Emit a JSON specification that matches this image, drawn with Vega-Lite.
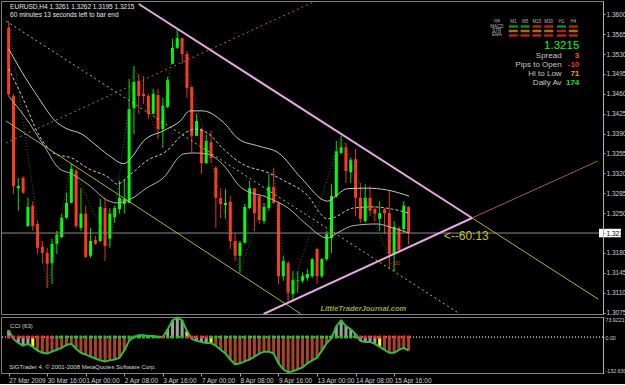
{
  "$schema": "https://vega.github.io/schema/vega-lite/v6.json",
  "background": "#000000",
  "padding": 0,
  "spacing": 3,
  "bounds": "flush",
  "config": {
    "view": {"stroke": "#808080", "strokeWidth": 1},
    "font": "Liberation Sans",
    "axis": {"labelFont": "Liberation Sans Narrow, Liberation Sans", "labelColor": "#d0d0d0", "domainColor": "#a0a0a0", "tickColor": "#a0a0a0", "grid": false, "labelOverlap": false}
  },
  "datasets": {
    "candles": [
      {"i":0,"o":1.3576,"h":1.3588,"l":1.3456,"c":1.3459},
      {"i":1,"o":1.3456,"h":1.3460,"l":1.3284,"c":1.3298},
      {"i":2,"o":1.3294,"h":1.3312,"l":1.3254,"c":1.3298},
      {"i":3,"o":1.3312,"h":1.3315,"l":1.3284,"c":1.3286},
      {"i":4,"o":1.3227,"h":1.3277,"l":1.3227,"c":1.3261},
      {"i":5,"o":1.3263,"h":1.3271,"l":1.3219,"c":1.3227},
      {"i":6,"o":1.3231,"h":1.3236,"l":1.3178,"c":1.3189},
      {"i":7,"o":1.3191,"h":1.3201,"l":1.3161,"c":1.3180},
      {"i":8,"o":1.3180,"h":1.3189,"l":1.3118,"c":1.3161},
      {"i":9,"o":1.3162,"h":1.3205,"l":1.3125,"c":1.3196},
      {"i":10,"o":1.3196,"h":1.3219,"l":1.3178,"c":1.3212},
      {"i":11,"o":1.3208,"h":1.3249,"l":1.3206,"c":1.3242},
      {"i":12,"o":1.3242,"h":1.3286,"l":1.3240,"c":1.3268},
      {"i":13,"o":1.3268,"h":1.3338,"l":1.3268,"c":1.3328},
      {"i":14,"o":1.3324,"h":1.3328,"l":1.3224,"c":1.3227},
      {"i":15,"o":1.3224,"h":1.3294,"l":1.3219,"c":1.3249},
      {"i":16,"o":1.3249,"h":1.3263,"l":1.3171,"c":1.3173},
      {"i":17,"o":1.3175,"h":1.3224,"l":1.3171,"c":1.3201},
      {"i":18,"o":1.3203,"h":1.3210,"l":1.3194,"c":1.3196},
      {"i":19,"o":1.3201,"h":1.3275,"l":1.3199,"c":1.3261},
      {"i":20,"o":1.3259,"h":1.3275,"l":1.3166,"c":1.3192},
      {"i":21,"o":1.3205,"h":1.3259,"l":1.3189,"c":1.3249},
      {"i":22,"o":1.3243,"h":1.3263,"l":1.3233,"c":1.3259},
      {"i":23,"o":1.3257,"h":1.3307,"l":1.3249,"c":1.3277},
      {"i":24,"o":1.3266,"h":1.3310,"l":1.3249,"c":1.3275},
      {"i":25,"o":1.3268,"h":1.3486,"l":1.3268,"c":1.3433},
      {"i":26,"o":1.3435,"h":1.3509,"l":1.3389,"c":1.3481},
      {"i":27,"o":1.3483,"h":1.3495,"l":1.3425,"c":1.3456},
      {"i":28,"o":1.3460,"h":1.3491,"l":1.3442,"c":1.3456},
      {"i":29,"o":1.3456,"h":1.3460,"l":1.3416,"c":1.3425},
      {"i":30,"o":1.3425,"h":1.3469,"l":1.3425,"c":1.3460},
      {"i":31,"o":1.3458,"h":1.3469,"l":1.3381,"c":1.3398},
      {"i":32,"o":1.3398,"h":1.3453,"l":1.3365,"c":1.3439},
      {"i":33,"o":1.3437,"h":1.3490,"l":1.3435,"c":1.3484},
      {"i":34,"o":1.3513,"h":1.3557,"l":1.3513,"c":1.3541},
      {"i":35,"o":1.3541,"h":1.3574,"l":1.3539,"c":1.3558},
      {"i":36,"o":1.3558,"h":1.3558,"l":1.3513,"c":1.3530},
      {"i":37,"o":1.3530,"h":1.3535,"l":1.3453,"c":1.3470},
      {"i":38,"o":1.3472,"h":1.3474,"l":1.3356,"c":1.3386},
      {"i":39,"o":1.3386,"h":1.3425,"l":1.3386,"c":1.3412},
      {"i":40,"o":1.3398,"h":1.3400,"l":1.3319,"c":1.3338},
      {"i":41,"o":1.3338,"h":1.3389,"l":1.3337,"c":1.3377},
      {"i":42,"o":1.3375,"h":1.3395,"l":1.3338,"c":1.3347},
      {"i":43,"o":1.3330,"h":1.3333,"l":1.3224,"c":1.3277},
      {"i":44,"o":1.3277,"h":1.3294,"l":1.3241,"c":1.3266},
      {"i":45,"o":1.3264,"h":1.3293,"l":1.3240,"c":1.3268},
      {"i":46,"o":1.3270,"h":1.3280,"l":1.3187,"c":1.3201},
      {"i":47,"o":1.3201,"h":1.3215,"l":1.3166,"c":1.3175},
      {"i":48,"o":1.3175,"h":1.3201,"l":1.3145,"c":1.3198},
      {"i":49,"o":1.3198,"h":1.3266,"l":1.3196,"c":1.3261},
      {"i":50,"o":1.3259,"h":1.3307,"l":1.3257,"c":1.3294},
      {"i":51,"o":1.3294,"h":1.3294,"l":1.3219,"c":1.3250},
      {"i":52,"o":1.3280,"h":1.3284,"l":1.3231,"c":1.3238},
      {"i":53,"o":1.3236,"h":1.3268,"l":1.3231,"c":1.3261},
      {"i":54,"o":1.3259,"h":1.3319,"l":1.3254,"c":1.3296},
      {"i":55,"o":1.3296,"h":1.3330,"l":1.3266,"c":1.3268},
      {"i":56,"o":1.3268,"h":1.3271,"l":1.3125,"c":1.3139},
      {"i":57,"o":1.3139,"h":1.3175,"l":1.3131,"c":1.3166},
      {"i":58,"o":1.3162,"h":1.3166,"l":1.3095,"c":1.3110},
      {"i":59,"o":1.3108,"h":1.3148,"l":1.3095,"c":1.3132},
      {"i":60,"o":1.3131,"h":1.3148,"l":1.3110,"c":1.3132},
      {"i":61,"o":1.3131,"h":1.3146,"l":1.3127,"c":1.3139},
      {"i":62,"o":1.3136,"h":1.3152,"l":1.3131,"c":1.3143},
      {"i":63,"o":1.3139,"h":1.3171,"l":1.3136,"c":1.3169},
      {"i":64,"o":1.3187,"h":1.3189,"l":1.3125,"c":1.3139},
      {"i":65,"o":1.3139,"h":1.3171,"l":1.3136,"c":1.3169},
      {"i":66,"o":1.3169,"h":1.3219,"l":1.3166,"c":1.3213},
      {"i":67,"o":1.3206,"h":1.3301,"l":1.3180,"c":1.3280},
      {"i":68,"o":1.3280,"h":1.3377,"l":1.3277,"c":1.3359},
      {"i":69,"o":1.3356,"h":1.3386,"l":1.3354,"c":1.3366},
      {"i":70,"o":1.3366,"h":1.3374,"l":1.3303,"c":1.3324},
      {"i":71,"o":1.3322,"h":1.3347,"l":1.3303,"c":1.3344},
      {"i":72,"o":1.3345,"h":1.3363,"l":1.3245,"c":1.3277},
      {"i":73,"o":1.3277,"h":1.3303,"l":1.3233,"c":1.3240},
      {"i":74,"o":1.3236,"h":1.3301,"l":1.3233,"c":1.3277},
      {"i":75,"o":1.3277,"h":1.3298,"l":1.3245,"c":1.3254},
      {"i":76,"o":1.3257,"h":1.3263,"l":1.3236,"c":1.3249},
      {"i":77,"o":1.3240,"h":1.3271,"l":1.3219,"c":1.3250},
      {"i":78,"o":1.3257,"h":1.3259,"l":1.3213,"c":1.3250},
      {"i":79,"o":1.3250,"h":1.3289,"l":1.3153,"c":1.3178},
      {"i":80,"o":1.3178,"h":1.3236,"l":1.3148,"c":1.3226},
      {"i":81,"o":1.3224,"h":1.3227,"l":1.3183,"c":1.3185},
      {"i":82,"o":1.3222,"h":1.3271,"l":1.3215,"c":1.3263},
      {"i":83,"o":1.3261,"h":1.3262,"l":1.3195,"c":1.3215}
    ],
    "last": [{"p": 1.3215}],
    "bands": [
      {"b":"u","i":0,"p":1.3539},{"b":"u","i":3.5,"p":1.3488},{"b":"u","i":6.2,"p":1.3453},{"b":"u","i":9.7,"p":1.3412},{"b":"u","i":11.7,"p":1.3400},{"b":"u","i":15.2,"p":1.3389},{"b":"u","i":17.8,"p":1.3372},{"b":"u","i":20.9,"p":1.3351},{"b":"u","i":23.9,"p":1.3337},{"b":"u","i":25.4,"p":1.3347},{"b":"u","i":28,"p":1.3377},{"b":"u","i":32.1,"p":1.3395},{"b":"u","i":35.6,"p":1.3412},{"b":"u","i":37.6,"p":1.3430},{"b":"u","i":40.3,"p":1.3430},{"b":"u","i":44.3,"p":1.3412},{"b":"u","i":47.8,"p":1.3380},{"b":"u","i":51.9,"p":1.3368},{"b":"u","i":56,"p":1.3356},{"b":"u","i":60.7,"p":1.3312},{"b":"u","i":66.2,"p":1.3271},{"b":"u","i":67.4,"p":1.3277},{"b":"u","i":70.3,"p":1.3293},{"b":"u","i":74.3,"p":1.3294},{"b":"u","i":78.4,"p":1.3291},{"b":"u","i":83.1,"p":1.3280},
      {"b":"m","i":0,"p":1.3504},{"b":"m","i":2.9,"p":1.3453},{"b":"m","i":6.2,"p":1.3389},{"b":"m","i":9.7,"p":1.3354},{"b":"m","i":13.1,"p":1.3347},{"b":"m","i":16.4,"p":1.3329},{"b":"m","i":20.9,"p":1.3312},{"b":"m","i":22.5,"p":1.3301},{"b":"m","i":25.4,"p":1.3319},{"b":"m","i":28.6,"p":1.3342},{"b":"m","i":32.7,"p":1.3359},{"b":"m","i":36.2,"p":1.3389},{"b":"m","i":38.8,"p":1.3398},{"b":"m","i":41.3,"p":1.3391},{"b":"m","i":44.3,"p":1.3365},{"b":"m","i":48.4,"p":1.3337},{"b":"m","i":53.9,"p":1.3321},{"b":"m","i":57.2,"p":1.3307},{"b":"m","i":61.7,"p":1.3284},{"b":"m","i":66.2,"p":1.3240},{"b":"m","i":67.4,"p":1.3242},{"b":"m","i":71.5,"p":1.3259},{"b":"m","i":75.6,"p":1.3261},{"b":"m","i":79.7,"p":1.3257},{"b":"m","i":83.1,"p":1.3250},
      {"b":"l","i":0,"p":1.3456},{"b":"l","i":3.5,"p":1.3418},{"b":"l","i":7.6,"p":1.3365},{"b":"l","i":10.3,"p":1.3330},{"b":"l","i":13.1,"p":1.3319},{"b":"l","i":16.4,"p":1.3301},{"b":"l","i":20.9,"p":1.3271},{"b":"l","i":22.5,"p":1.3268},{"b":"l","i":25.4,"p":1.3275},{"b":"l","i":28.6,"p":1.3294},{"b":"l","i":32.1,"p":1.3312},{"b":"l","i":36.2,"p":1.3354},{"b":"l","i":38.3,"p":1.3356},{"b":"l","i":41.3,"p":1.3354},{"b":"l","i":44.3,"p":1.3337},{"b":"l","i":48.4,"p":1.3294},{"b":"l","i":53.9,"p":1.3277},{"b":"l","i":58,"p":1.3259},{"b":"l","i":61.7,"p":1.3231},{"b":"l","i":66.2,"p":1.3206},{"b":"l","i":68.2,"p":1.3215},{"b":"l","i":71.5,"p":1.3228},{"b":"l","i":76.4,"p":1.3231},{"b":"l","i":79.7,"p":1.3224},{"b":"l","i":83.1,"p":1.3215}
    ],
    "trend": [
      {"n":"A","i":27.0,"p":1.36181},{"n":"A","i":96.18,"p":1.32415},
      {"n":"B","i":52.92,"p":1.30725},{"n":"B","i":96.18,"p":1.32415},
      {"n":"C","i":96.18,"p":1.32415},{"n":"C","i":122.31,"p":1.30989},
      {"n":"D","i":96.18,"p":1.32415},{"n":"D","i":122.31,"p":1.33418},
      {"n":"E","i":-0.55,"p":1.35882},{"n":"E","i":93.33,"p":1.30743},
      {"n":"F","i":-0.55,"p":1.34122},{"n":"F","i":60.67,"p":1.30725},
      {"n":"G","i":-0.55,"p":1.33735},{"n":"G","i":63.73,"p":1.36234}
    ],
    "zigzag": [
      {"i":0,"p":1.3588},{"i":8,"p":1.3118},{"i":13,"p":1.3338},{"i":21,"p":1.3189},{"i":26,"p":1.3509},{"i":31,"p":1.3381},{"i":35,"p":1.3574},{"i":48,"p":1.3145},{"i":55,"p":1.3330},{"i":58,"p":1.3095},{"i":69,"p":1.3386},{"i":80,"p":1.3148}
    ],
    "mtf": [
      {"tf":"M1","row":"MACD","i":104.73,"p":1.35785,"st":"up"},{"tf":"M5","row":"MACD","i":107.18,"p":1.35785,"st":"up"},{"tf":"M15","row":"MACD","i":109.63,"p":1.35785,"st":"dn"},{"tf":"M30","row":"MACD","i":112.08,"p":1.35785,"st":"dn"},{"tf":"H1","row":"MACD","i":114.73,"p":1.35785,"st":"up"},{"tf":"H4","row":"MACD","i":117.18,"p":1.35785,"st":"dn"},
      {"tf":"M1","row":"STR","i":104.73,"p":1.35706,"st":"nt"},{"tf":"M5","row":"STR","i":107.18,"p":1.35706,"st":"nt"},{"tf":"M15","row":"STR","i":109.63,"p":1.35706,"st":"nt"},{"tf":"M30","row":"STR","i":112.08,"p":1.35706,"st":"nt"},{"tf":"H1","row":"STR","i":114.73,"p":1.35706,"st":"dn"},{"tf":"H4","row":"STR","i":117.18,"p":1.35706,"st":"nt"},
      {"tf":"M1","row":"EMA","i":104.73,"p":1.35627,"st":"dn"},{"tf":"M5","row":"EMA","i":107.18,"p":1.35627,"st":"dn"},{"tf":"M15","row":"EMA","i":109.63,"p":1.35627,"st":"dn"},{"tf":"M30","row":"EMA","i":112.08,"p":1.35627,"st":"dn"},{"tf":"H1","row":"EMA","i":114.73,"p":1.35627,"st":"dn"},{"tf":"H4","row":"EMA","i":117.18,"p":1.35627,"st":"dn"}
    ],
    "notes": [
      {"g":"hdr","t":"EURUSD,H4  1.3261 1.3262 1.3195 1.3215","i":0.3,"p":1.36128},
      {"g":"hdr","t":"60 minutes 13 seconds left to bar end","i":0.3,"p":1.35979},
      {"g":"timer","t":"<--60:13","i":90.3,"p":1.32098},
      {"g":"big","t":"1.3215","i":118.43,"p":1.35442},
      {"g":"lab","t":"Spread","i":114.76,"p":1.35266},
      {"g":"lab","t":"Pips to Open","i":114.76,"p":1.35106},
      {"g":"lab","t":"Hi to Low","i":114.76,"p":1.34946},
      {"g":"lab","t":"Daily Av","i":114.76,"p":1.34782},
      {"g":"val","k":"spread","t":"3","i":118.43,"p":1.35266},
      {"g":"val","k":"pto","t":"-10","i":118.43,"p":1.35106},
      {"g":"val","k":"hl","t":"71","i":118.43,"p":1.34946},
      {"g":"val","k":"da","t":"174","i":118.43,"p":1.34782},
      {"g":"grid","t":"cja","i":101.3,"p":1.35886},
      {"g":"grid","t":"M1","i":104.73,"p":1.35870},
      {"g":"grid","t":"M5","i":107.18,"p":1.35870},
      {"g":"grid","t":"M15","i":109.63,"p":1.35870},
      {"g":"grid","t":"M30","i":112.08,"p":1.35870},
      {"g":"grid","t":"H1","i":114.73,"p":1.35870},
      {"g":"grid","t":"H4","i":117.18,"p":1.35870},
      {"g":"grid","t":"MACD","i":101.3,"p":1.35785},
      {"g":"grid","t":"STR","i":101.3,"p":1.35706},
      {"g":"grid","t":"EMA","i":101.3,"p":1.35627},
      {"g":"dd","t":"DD","i":80.5,"p":1.31623},
      {"g":"wm","t":"LittleTraderJournal.com","i":73.6,"p":1.30813}
    ],
    "cci": [
      {"i":0,"v":25,"h":"up","s":"bear"},{"i":1,"v":-7,"h":"up","s":"bear"},{"i":2,"v":-22,"h":"up","s":"bear"},{"i":3,"v":-32,"h":"up","s":"bear"},{"i":4,"v":-25,"h":"up","s":"bear"},{"i":5,"v":-36,"h":"sig","s":"bear"},{"i":6,"v":-50,"h":"dn","s":"bear"},{"i":7,"v":-58,"h":"dn","s":"bear"},{"i":8,"v":-61,"h":"dn","s":"bear"},{"i":9,"v":-54,"h":"dn","s":"bear"},
      {"i":10,"v":-47,"h":"dn","s":"bull"},{"i":11,"v":-40,"h":"dn","s":"bull"},{"i":12,"v":-29,"h":"dn","s":"bull"},{"i":13,"v":-25,"h":"dn","s":"bull"},{"i":14,"v":-43,"h":"dn","s":"bull"},{"i":15,"v":-58,"h":"dn","s":"bull"},{"i":16,"v":-65,"h":"dn","s":"bull"},{"i":17,"v":-72,"h":"dn","s":"bull"},{"i":18,"v":-79,"h":"dn","s":"bull"},{"i":19,"v":-86,"h":"dn","s":"bull"},
      {"i":20,"v":-90,"h":"dn","s":"bull"},{"i":21,"v":-86,"h":"dn","s":"bull"},{"i":22,"v":-83,"h":"dn","s":"bull"},{"i":23,"v":-76,"h":"dn","s":"bull"},{"i":24,"v":-50,"h":"dn","s":"bull"},{"i":25,"v":-14,"h":"dn","s":"bull"},{"i":26,"v":0,"h":"up","s":"bull"},{"i":27,"v":7,"h":"up","s":"bull"},{"i":28,"v":7,"h":"up","s":"bull"},{"i":29,"v":4,"h":"up","s":"bull"},
      {"i":30,"v":4,"h":"up","s":"bull"},{"i":31,"v":0,"h":"up","s":"bull"},{"i":32,"v":0,"h":"up","s":"bear"},{"i":33,"v":29,"h":"up","s":"bull"},{"i":34,"v":61,"h":"up","s":"bull"},{"i":35,"v":72,"h":"up","s":"bull"},{"i":36,"v":61,"h":"up","s":"bull"},{"i":37,"v":22,"h":"sig","s":"bear"},{"i":38,"v":-7,"h":"up","s":"bear"},{"i":39,"v":-14,"h":"up","s":"bear"},
      {"i":40,"v":-18,"h":"up","s":"bear"},{"i":41,"v":-22,"h":"up","s":"bear"},{"i":42,"v":-22,"h":"sig","s":"bull"},{"i":43,"v":-32,"h":"dn","s":"bull"},{"i":44,"v":-47,"h":"dn","s":"bull"},{"i":45,"v":-61,"h":"dn","s":"bull"},{"i":46,"v":-83,"h":"dn","s":"bull"},{"i":47,"v":-101,"h":"dn","s":"bull"},{"i":48,"v":-97,"h":"dn","s":"bull"},{"i":49,"v":-90,"h":"dn","s":"bull"},
      {"i":50,"v":-83,"h":"dn","s":"bull"},{"i":51,"v":-72,"h":"dn","s":"bull"},{"i":52,"v":-61,"h":"dn","s":"bull"},{"i":53,"v":-54,"h":"dn","s":"bull"},{"i":54,"v":-54,"h":"dn","s":"bull"},{"i":55,"v":-61,"h":"dn","s":"bull"},{"i":56,"v":-97,"h":"dn","s":"bull"},{"i":57,"v":-119,"h":"dn","s":"bull"},{"i":58,"v":-130,"h":"dn","s":"bull"},{"i":59,"v":-126,"h":"dn","s":"bull"},
      {"i":60,"v":-119,"h":"dn","s":"bull"},{"i":61,"v":-112,"h":"dn","s":"bull"},{"i":62,"v":-97,"h":"dn","s":"bull"},{"i":63,"v":-86,"h":"dn","s":"bull"},{"i":64,"v":-76,"h":"dn","s":"bull"},{"i":65,"v":-50,"h":"dn","s":"bull"},{"i":66,"v":-22,"h":"dn","s":"bull"},{"i":67,"v":-4,"h":"up","s":"bull"},{"i":68,"v":40,"h":"up","s":"bull"},{"i":69,"v":61,"h":"up","s":"bull"},
      {"i":70,"v":40,"h":"up","s":"bull"},{"i":71,"v":29,"h":"up","s":"bull"},{"i":72,"v":11,"h":"up","s":"bull"},{"i":73,"v":-14,"h":"up","s":"bear"},{"i":74,"v":-18,"h":"up","s":"bear"},{"i":75,"v":-18,"h":"up","s":"bear"},{"i":76,"v":-25,"h":"up","s":"bear"},{"i":77,"v":-36,"h":"sig","s":"bear"},{"i":78,"v":-47,"h":"dn","s":"bear"},{"i":79,"v":-58,"h":"dn","s":"bear"},
      {"i":80,"v":-58,"h":"dn","s":"bear"},{"i":81,"v":-47,"h":"dn","s":"bear"},{"i":82,"v":-40,"h":"dn","s":"bear"},{"i":83,"v":-50,"h":"dn","s":"bear"}
    ],
    "cnotes": [
      {"t":"CCI (63)","i":0.3,"v":40},
      {"t":"SIGTrader 4, © 2001-2008 MetaQuotes Software Corp.","i":0.1,"v":-112}
    ]
  },
  "vconcat": [
    {
      "width": 602,
      "height": 313,
      "resolve": {"scale": {"color": "independent"}, "axis": {"x": "independent", "y": "independent"}},
      "layer": [
        {
          "data": {"name": "candles"},
          "mark": {"type": "rule", "strokeWidth": 1},
          "encoding": {
            "x": {"field": "i", "type": "quantitative", "scale": {"domain": [-0.551, 122.31], "nice": false, "zero": false}, "axis": null},
            "y": {"field": "l", "type": "quantitative", "scale": {"domain": [1.30725, 1.36234], "nice": false, "zero": false},
              "axis": {"orient": "right", "title": null, "values": [1.3075,1.311,1.3145,1.318,1.3215,1.325,1.3285,1.332,1.3355,1.339,1.3425,1.346,1.3495,1.353,1.3565,1.36], "format": ".4f", "labelFontSize": 6.5, "tickSize": 2, "labelPadding": 1, "zindex": 1, "domainColor": "#b0b0b0", "labelOverlap": false,
                "labelColor": {"condition": {"test": "abs(datum.value - 1.3215) < 0.00001", "value": "#000000"}, "value": "#d0d0d0"}}},
            "y2": {"field": "h"},
            "color": {"condition": {"test": "datum.c >= datum.o", "value": "#00e000"}, "value": "#e8321e"}
          }
        },
        {
          "data": {"name": "candles"},
          "mark": {"type": "bar", "width": 3},
          "encoding": {
            "x": {"field": "i", "type": "quantitative", "axis": null},
            "y": {"field": "o", "type": "quantitative", "axis": null},
            "y2": {"field": "c"},
            "color": {"condition": {"test": "datum.c >= datum.o", "value": "#00ff00"}, "value": "#ff3a22"}
          }
        },
        {
          "data": {"name": "last"},
          "mark": {"type": "rule", "color": "#8c8c8c", "strokeWidth": 1},
          "encoding": {"y": {"field": "p", "type": "quantitative", "axis": null}}
        },
        {
          "data": {"name": "zigzag"},
          "mark": {"type": "line", "color": "#2a6a2a", "strokeWidth": 1, "strokeDash": [1, 2]},
          "encoding": {
            "x": {"field": "i", "type": "quantitative", "axis": null},
            "y": {"field": "p", "type": "quantitative", "axis": null}
          }
        },
        {
          "data": {"name": "bands"},
          "transform": [{"filter": "datum.b == 'u'"}],
          "mark": {"type": "line", "color": "#c8c8c8", "strokeWidth": 1, "interpolate": "monotone"},
          "encoding": {
            "x": {"field": "i", "type": "quantitative", "axis": null},
            "y": {"field": "p", "type": "quantitative", "axis": null}
          }
        },
        {
          "data": {"name": "bands"},
          "transform": [{"filter": "datum.b == 'm'"}],
          "mark": {"type": "line", "color": "#c8c8c8", "strokeWidth": 1, "strokeDash": [3, 2], "interpolate": "monotone"},
          "encoding": {
            "x": {"field": "i", "type": "quantitative", "axis": null},
            "y": {"field": "p", "type": "quantitative", "axis": null}
          }
        },
        {
          "data": {"name": "bands"},
          "transform": [{"filter": "datum.b == 'l'"}],
          "mark": {"type": "line", "color": "#b4b4b4", "strokeWidth": 1, "interpolate": "monotone"},
          "encoding": {
            "x": {"field": "i", "type": "quantitative", "axis": null},
            "y": {"field": "p", "type": "quantitative", "axis": null}
          }
        },
        {
          "data": {"name": "trend"},
          "transform": [{"filter": {"field": "n", "oneOf": ["C", "F"]}}],
          "mark": {"type": "line", "color": "#b4b414", "strokeWidth": 1, "clip": true},
          "encoding": {
            "x": {"field": "i", "type": "quantitative", "axis": null},
            "y": {"field": "p", "type": "quantitative", "axis": null},
            "detail": {"field": "n"}
          }
        },
        {
          "data": {"name": "trend"},
          "transform": [{"filter": "datum.n == 'D'"}],
          "mark": {"type": "line", "color": "#a8622a", "strokeWidth": 1, "clip": true},
          "encoding": {
            "x": {"field": "i", "type": "quantitative", "axis": null},
            "y": {"field": "p", "type": "quantitative", "axis": null}
          }
        },
        {
          "data": {"name": "trend"},
          "transform": [{"filter": "datum.n == 'E'"}],
          "mark": {"type": "line", "color": "#c8c800", "strokeWidth": 1, "strokeDash": [2, 3], "clip": true},
          "encoding": {
            "x": {"field": "i", "type": "quantitative", "axis": null},
            "y": {"field": "p", "type": "quantitative", "axis": null}
          }
        },
        {
          "data": {"name": "trend"},
          "transform": [{"filter": "datum.n == 'G'"}],
          "mark": {"type": "line", "color": "#c06a28", "strokeWidth": 1, "strokeDash": [2, 3], "clip": true},
          "encoding": {
            "x": {"field": "i", "type": "quantitative", "axis": null},
            "y": {"field": "p", "type": "quantitative", "axis": null}
          }
        },
        {
          "data": {"name": "trend"},
          "transform": [{"filter": {"field": "n", "oneOf": ["A", "B"]}}],
          "mark": {"type": "line", "color": "#e6a8e6", "strokeWidth": 2, "clip": true},
          "encoding": {
            "x": {"field": "i", "type": "quantitative", "axis": null},
            "y": {"field": "p", "type": "quantitative", "axis": null},
            "detail": {"field": "n"}
          }
        },
        {
          "data": {"name": "last"},
          "mark": {"type": "tick", "orient": "horizontal", "size": 22, "thickness": 8.5, "color": "#ffffff", "opacity": 1, "clip": false},
          "encoding": {
            "x": {"datum": 124.8, "type": "quantitative", "axis": null},
            "y": {"field": "p", "type": "quantitative", "axis": null}
          }
        },
        {
          "data": {"name": "mtf"},
          "mark": {"type": "tick", "orient": "horizontal", "size": 9, "thickness": 2.5},
          "encoding": {
            "x": {"field": "i", "type": "quantitative", "axis": null},
            "y": {"field": "p", "type": "quantitative", "axis": null},
            "color": {"field": "st", "type": "nominal", "scale": {"domain": ["up", "nt", "dn"], "range": ["#18c818", "#ff9a00", "#ff3020"]}, "legend": null}
          }
        },
        {
          "data": {"name": "notes"},
          "transform": [{"filter": "datum.g == 'hdr'"}],
          "mark": {"type": "text", "align": "left", "baseline": "middle", "fontSize": 6.5, "color": "#e8e8e8"},
          "encoding": {
            "x": {"field": "i", "type": "quantitative", "axis": null},
            "y": {"field": "p", "type": "quantitative", "axis": null},
            "text": {"field": "t"}
          }
        },
        {
          "data": {"name": "notes"},
          "transform": [{"filter": "datum.g == 'timer'"}],
          "mark": {"type": "text", "align": "left", "baseline": "middle", "fontSize": 12, "color": "#c4c414"},
          "encoding": {
            "x": {"field": "i", "type": "quantitative", "axis": null},
            "y": {"field": "p", "type": "quantitative", "axis": null},
            "text": {"field": "t"}
          }
        },
        {
          "data": {"name": "notes"},
          "transform": [{"filter": "datum.g == 'big'"}],
          "mark": {"type": "text", "align": "right", "baseline": "middle", "fontSize": 11.5, "color": "#00ff00"},
          "encoding": {
            "x": {"field": "i", "type": "quantitative", "axis": null},
            "y": {"field": "p", "type": "quantitative", "axis": null},
            "text": {"field": "t"}
          }
        },
        {
          "data": {"name": "notes"},
          "transform": [{"filter": "datum.g == 'lab'"}],
          "mark": {"type": "text", "align": "right", "baseline": "middle", "fontSize": 8, "color": "#c8c8c8"},
          "encoding": {
            "x": {"field": "i", "type": "quantitative", "axis": null},
            "y": {"field": "p", "type": "quantitative", "axis": null},
            "text": {"field": "t"}
          }
        },
        {
          "data": {"name": "notes"},
          "transform": [{"filter": "datum.g == 'val'"}],
          "mark": {"type": "text", "align": "right", "baseline": "middle", "fontSize": 8, "fontWeight": "bold"},
          "encoding": {
            "x": {"field": "i", "type": "quantitative", "axis": null},
            "y": {"field": "p", "type": "quantitative", "axis": null},
            "text": {"field": "t"},
            "color": {"field": "k", "type": "nominal", "scale": {"domain": ["spread", "pto", "hl", "da"], "range": ["#ff5a1e", "#ff2a1a", "#ff9a1a", "#22e022"]}, "legend": null}
          }
        },
        {
          "data": {"name": "notes"},
          "transform": [{"filter": "datum.g == 'grid'"}],
          "mark": {"type": "text", "align": "center", "baseline": "middle", "fontSize": 4.5, "color": "#b8b8b8"},
          "encoding": {
            "x": {"field": "i", "type": "quantitative", "axis": null},
            "y": {"field": "p", "type": "quantitative", "axis": null},
            "text": {"field": "t"}
          }
        },
        {
          "data": {"name": "notes"},
          "transform": [{"filter": "datum.g == 'dd'"}],
          "mark": {"type": "text", "align": "center", "baseline": "middle", "fontSize": 5, "color": "#e03020"},
          "encoding": {
            "x": {"field": "i", "type": "quantitative", "axis": null},
            "y": {"field": "p", "type": "quantitative", "axis": null},
            "text": {"field": "t"}
          }
        },
        {
          "data": {"name": "notes"},
          "transform": [{"filter": "datum.g == 'wm'"}],
          "mark": {"type": "text", "align": "center", "baseline": "middle", "fontSize": 7.5, "fontStyle": "italic", "fontWeight": "bold", "color": "#a0a040"},
          "encoding": {
            "x": {"field": "i", "type": "quantitative", "axis": null},
            "y": {"field": "p", "type": "quantitative", "axis": null},
            "text": {"field": "t"}
          }
        }
      ]
    },
    {
      "width": 602,
      "height": 56,
      "resolve": {"scale": {"color": "independent"}, "axis": {"x": "independent", "y": "independent"}},
      "layer": [
        {
          "data": {"name": "cci"},
          "mark": {"type": "bar", "width": 3},
          "encoding": {
            "x": {"field": "i", "type": "quantitative", "scale": {"domain": [-0.551, 122.31], "nice": false, "zero": false},
              "axis": {"orient": "bottom", "title": null, "values": [0,8,16,24,32,40,48,56,64,72,80], "labelExpr": "['27 Mar 2009','30 Mar 16:00','1 Apr 00:00','2 Apr 08:00','3 Apr 16:00','7 Apr 00:00','8 Apr 08:00','9 Apr 16:00','13 Apr 00:00','14 Apr 08:00','15 Apr 16:00'][round(datum.value/8)]", "labelAlign": "left", "labelFontSize": 6.5, "tickSize": 3, "labelPadding": 1, "labelOverlap": false, "domain": false}},
            "y": {"field": "v", "type": "quantitative", "scale": {"domain": [-132.63, 73.9221], "nice": false, "zero": false},
              "axis": {"orient": "right", "title": null, "values": [-132.63, 0, 73.9221], "labelExpr": "datum.value > 70 ? '73.9221' : datum.value < -100 ? '-132.630' : '0.00'", "labelFlush": true, "labelFontSize": 5.3, "tickSize": 1, "labelPadding": 1, "domainColor": "#b0b0b0", "labelOverlap": false}},
            "y2": {"datum": 0},
            "color": {"field": "h", "type": "nominal", "scale": {"domain": ["up", "dn", "sig"], "range": ["#a0a0a0", "#a8432c", "#ffff00"]}, "legend": null}
          }
        },
        {
          "data": {"name": "cci"},
          "mark": {"type": "rule", "color": "#909090", "strokeDash": [1, 2]},
          "encoding": {"y": {"datum": 0, "type": "quantitative", "axis": null}}
        },
        {
          "data": {"name": "cci"},
          "mark": {"type": "line", "color": "#2ebd3c", "strokeWidth": 2},
          "encoding": {
            "x": {"field": "i", "type": "quantitative", "axis": null},
            "y": {"field": "v", "type": "quantitative", "axis": null}
          }
        },
        {
          "data": {"name": "cci"},
          "mark": {"type": "square", "size": 9, "filled": true, "opacity": 1},
          "encoding": {
            "x": {"field": "i", "type": "quantitative", "axis": null},
            "y": {"datum": 0, "type": "quantitative", "axis": null},
            "color": {"field": "s", "type": "nominal", "scale": {"domain": ["bull", "bear"], "range": ["#22c422", "#ff2a2a"]}, "legend": null}
          }
        },
        {
          "data": {"name": "cnotes"},
          "mark": {"type": "text", "align": "left", "baseline": "middle", "fontSize": 6, "color": "#d8d8d8"},
          "encoding": {
            "x": {"field": "i", "type": "quantitative", "axis": null},
            "y": {"field": "v", "type": "quantitative", "axis": null},
            "text": {"field": "t"}
          }
        }
      ]
    }
  ]
}
